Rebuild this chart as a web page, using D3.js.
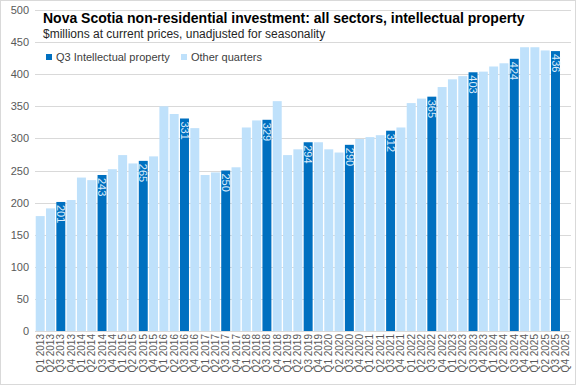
<!DOCTYPE html>
<html>
<head>
<meta charset="utf-8">
<script src="https://cdn.jsdelivr.net/npm/d3@7"></script>
<style>
  body { margin: 0; background: #fff; }
  svg { display: block; font-family: "Liberation Sans", Arial, sans-serif; }
</style>
</head>
<body>
<div id="chart"></div>
<script>
// quarters Q1 2013 .. Q4 2025
const years = d3.range(2013, 2026);
const quarters = years.flatMap(y => [1, 2, 3, 4].map(q => `Q${q} ${y}`));

// $ millions, null where no data yet
const values = [
  179, 191, 201, 204,
  239, 235, 243, 252,
  274, 261, 265, 272,
  350, 338, 331, 316,
  243, 247, 250, 255,
  317, 328, 329, 358,
  274, 283, 294, 294,
  283, 278, 290, 299,
  302, 305, 312, 317,
  355, 362, 365, 380,
  392, 397, 403, 404,
  412, 417, 424, 442,
  442, 437, 436, null
];

const yTicks = [0, 50, 100, 150, 200, 250, 300, 350, 400, 450, 500];

const width = 576, height = 385;
const margin = { top: 10, right: 5, bottom: 54, left: 35 };

const svg = d3.select("#chart").append("svg")
  .attr("width", width)
  .attr("height", height);

// outer frame
svg.append("rect")
  .attr("x", 0.5).attr("y", 0.5)
  .attr("width", width - 1).attr("height", height - 1)
  .attr("fill", "#fff").attr("stroke", "#d9d9d9");

const x = d3.scaleBand()
  .domain(quarters)
  .range([margin.left, width - margin.right])
  .paddingInner(0.13)
  .paddingOuter(0.07);

const y = d3.scaleLinear()
  .domain([0, 500])
  .range([height - margin.bottom, margin.top]);

// gridlines
svg.append("g")
  .selectAll("line")
  .data(yTicks)
  .join("line")
  .attr("x1", margin.left)
  .attr("x2", width - margin.right)
  .attr("y1", d => Math.round(y(d)) + 0.5)
  .attr("y2", d => Math.round(y(d)) + 0.5)
  .attr("stroke", "#d9d9d9");

// y axis labels
const yAxis = svg.append("g")
  .attr("transform", `translate(${margin.left - 6},0)`)
  .call(d3.axisLeft(y).tickValues(yTicks).tickSize(0).tickPadding(0));
yAxis.select(".domain").remove();
yAxis.selectAll("text")
  .attr("fill", "#595959")
  .style("font-size", "11px");

const data = quarters.map((q, i) => ({ q, v: values[i], q3: q.startsWith("Q3") }));

// bars
svg.append("g")
  .selectAll("rect")
  .data(data.filter(d => d.v != null))
  .join("rect")
  .attr("x", d => x(d.q))
  .attr("width", x.bandwidth())
  .attr("y", d => y(d.v))
  .attr("height", d => y(0) - y(d.v))
  .attr("fill", d => d.q3 ? "#0070c0" : "#bfe1fb");

// labels on Q3 bars
svg.append("g")
  .selectAll("text")
  .data(data.filter(d => d.q3 && d.v != null))
  .join("text")
  .attr("transform", d => `translate(${x(d.q) + x.bandwidth() / 2},${y(d.v) + 3}) rotate(90)`)
  .attr("dy", "0.35em")
  .attr("text-anchor", "start")
  .attr("fill", "#dcecfb")
  .style("font-size", "11px")
  .text(d => d.v);

// x axis line
svg.append("line")
  .attr("x1", margin.left).attr("x2", width - margin.right)
  .attr("y1", Math.round(y(0)) + 0.5).attr("y2", Math.round(y(0)) + 0.5)
  .attr("stroke", "#d9d9d9");

// x labels
svg.append("g")
  .selectAll("text")
  .data(quarters)
  .join("text")
  .attr("transform", d => `translate(${x(d) + x.bandwidth() / 2},${y(0) + 3}) rotate(-90)`)
  .attr("dy", "0.35em")
  .attr("text-anchor", "end")
  .attr("fill", "#595959")
  .style("font-size", "10px")
  .text(d => d);

// title block
svg.append("text")
  .attr("x", 43).attr("y", 23)
  .attr("font-weight", "bold")
  .attr("fill", "#000")
  .style("font-size", "14px")
  .text("Nova Scotia non-residential  investment: all sectors, intellectual property");

svg.append("text")
  .attr("x", 43).attr("y", 38)
  .attr("fill", "#262626")
  .style("font-size", "12px")
  .text("$millions at current prices, unadjusted for seasonality");

// legend
const legendItems = [
  { label: "Q3 Intellectual property", color: "#0070c0", x: 46 },
  { label: "Other quarters", color: "#bfe1fb", x: 181 }
];
const lg = svg.append("g")
  .selectAll("g")
  .data(legendItems)
  .join("g")
  .attr("transform", d => `translate(${d.x},61)`);
lg.append("rect")
  .attr("x", 0).attr("y", -7)
  .attr("width", 6).attr("height", 6)
  .attr("fill", d => d.color);
lg.append("text")
  .attr("x", 10).attr("y", 0)
  .attr("fill", "#404040")
  .style("font-size", "11px")
  .text(d => d.label);
</script>
</body>
</html>
